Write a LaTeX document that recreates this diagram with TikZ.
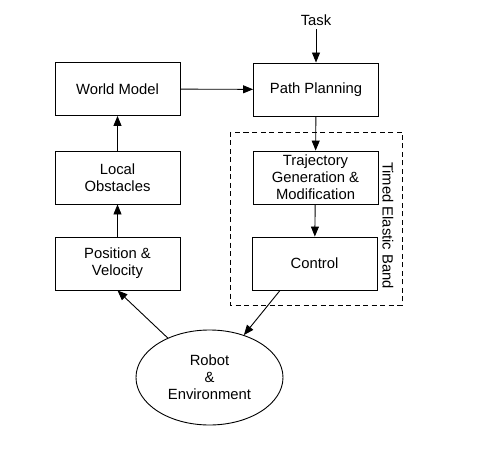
\documentclass[tikz,border=0pt]{standalone}
\usepackage{fontspec}
\setmainfont{Liberation Sans}
\usetikzlibrary{arrows.meta,shapes.geometric}
\begin{document}
\begin{tikzpicture}[x=1bp, y=-1bp, line width=0.9bp,
    >={Triangle[length=10bp, width=8bp]},
    block/.style={draw, minimum width=125bp, minimum height=53bp, align=center},
    every node/.style={font=\fontsize{14.8bp}{17bp}\selectfont}]
    \useasboundingbox (0, 0) rectangle (482, 458);

    \node (task) at (316, 20) {Task};
    \node[block] (wm) at (117.5, 89) {World Model};
    \node[block] (pp) at (316, 89.5) {Path Planning};
    \node[block] (lo) at (117.5, 177.5) {Local\\Obstacles};
    \node[block] (pv) at (117.5, 263.5) {Position \&\\Velocity};
    \node[block] (tg) at (315.5, 177.5) {Trajectory\\Generation \&\\Modification};
    \node[block] (ctrl) at (314.5, 263.5) {Control};
    \node[draw, ellipse, minimum width=147bp, minimum height=95bp, align=center]
        (robot) at (209.5, 377.5) {Robot\\\&\\Environment};

    \draw[dash pattern=on 5bp off 3.5bp] (230, 132) rectangle (402, 305);
    \node[rotate=-90] (teb) at (388, 225.5) {Timed Elastic Band};

    \draw[->] (task) -- (pp);
    \draw[->] (wm) -- (pp);
    \draw[->] (pp) -- (tg);
    \draw[->] (tg) -- (ctrl);
    \draw[->] (pv) -- (lo);
    \draw[->] (lo) -- (wm);
    \draw[->] (ctrl.218) -- (robot);
    \draw[->] (robot) -- (pv.south);
\end{tikzpicture}
\end{document}
